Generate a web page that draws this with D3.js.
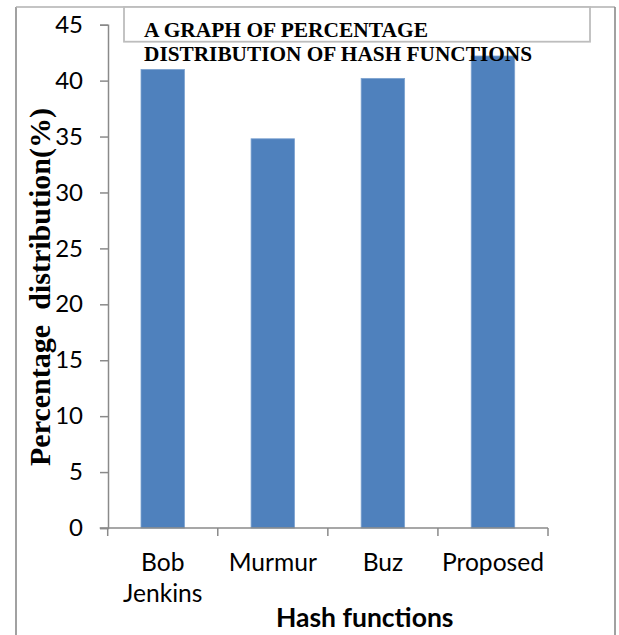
<!DOCTYPE html>
<html>
<head>
<meta charset="utf-8">
<script src="https://cdn.jsdelivr.net/npm/d3@7"></script>
<style>
  html, body { margin: 0; padding: 0; background: #fff; }
  svg { display: block; }
</style>
</head>
<body>
<svg id="chart" width="619" height="635"></svg>
<script>
const categories = ["Bob Jenkins", "Murmur", "Buz", "Proposed"];
const categoryLines = [["Bob", "Jenkins"], ["Murmur"], ["Buz"], ["Proposed"]];
const values = [41.0, 34.8, 40.2, 42.2];
const yTicks = [0, 5, 10, 15, 20, 25, 30, 35, 40, 45];
const titleLines = ["A GRAPH OF PERCENTAGE", "DISTRIBUTION OF HASH FUNCTIONS"];
const yLabel = "Percentage  distribution(%)";
const xLabel = "Hash functions";

const svg = d3.select("#chart");

// outer frame
svg.append("line").attr("x1", 16).attr("x2", 16).attr("y1", 7).attr("y2", 640)
  .attr("stroke", "#8a8a8a").attr("stroke-width", 1.6);
svg.append("line").attr("x1", 16).attr("x2", 615).attr("y1", 7).attr("y2", 7)
  .attr("stroke", "#b0b0b0").attr("stroke-width", 1.3);
svg.append("line").attr("x1", 615).attr("x2", 615).attr("y1", 7).attr("y2", 640)
  .attr("stroke", "#8a8a8a").attr("stroke-width", 1.6);

const x = d3.scaleBand().domain(categories).range([107.7, 548])
  .paddingInner(0.605).paddingOuter(0.3025);
const y = d3.scaleLinear().domain([0, 45]).range([528, 24.7]);

// bars
svg.append("g").selectAll("rect").data(values).join("rect")
  .attr("x", (d, i) => x(categories[i]))
  .attr("y", d => y(d))
  .attr("width", x.bandwidth())
  .attr("height", d => y(0) - y(d))
  .attr("fill", "#4F81BD")
  .attr("stroke", "#7EA3D0").attr("stroke-width", 0.8);

// y axis
const yAxis = svg.append("g").attr("transform", "translate(108,0)")
  .call(d3.axisLeft(y).tickValues(yTicks).tickSize(8).tickPadding(17));
yAxis.select(".domain").attr("stroke", "#8a8a8a").attr("stroke-width", 1.5);
yAxis.selectAll(".tick line").attr("stroke", "#8a8a8a").attr("stroke-width", 1.5);
yAxis.selectAll(".tick text")
  .attr("font-family", "Lato, 'Open Sans', sans-serif")
  .attr("font-size", 24).attr("fill", "#000");

// x axis
const step = x.step();
const boundaries = [0, 1, 2, 3, 4].map(i => x.range()[0] + i * step);
const xg = svg.append("g");
xg.append("line").attr("x1", x.range()[0] - 8).attr("x2", x.range()[1])
  .attr("y1", y(0)).attr("y2", y(0))
  .attr("stroke", "#8a8a8a").attr("stroke-width", 1.5);
xg.selectAll("line.tk").data(boundaries).join("line").attr("class", "tk")
  .attr("x1", d => d).attr("x2", d => d)
  .attr("y1", y(0)).attr("y2", y(0) + 8)
  .attr("stroke", "#8a8a8a").attr("stroke-width", 1.5);
xg.selectAll("text").data(categories).join("text")
  .attr("x", d => x(d) + x.bandwidth() / 2)
  .attr("y", 571)
  .attr("text-anchor", "middle")
  .attr("font-family", "Lato, 'Open Sans', sans-serif")
  .attr("font-size", 24.6).attr("fill", "#000")
  .each(function(d, i) {
    const t = d3.select(this);
    categoryLines[i].forEach((ln, j) => {
      t.append("tspan").attr("x", x(d) + x.bandwidth() / 2)
        .attr("dy", j === 0 ? 0 : 31).text(ln);
    });
  });

// x axis title
svg.append("text").attr("x", 364.7).attr("y", 627)
  .attr("text-anchor", "middle")
  .attr("font-family", "Lato, 'Open Sans', sans-serif")
  .attr("font-weight", "bold").attr("font-size", 26.5).attr("fill", "#000")
  .text(xLabel);

// y axis title
svg.append("text")
  .attr("transform", "translate(50,287) rotate(-90)")
  .attr("text-anchor", "middle")
  .attr("font-family", "'Liberation Serif', 'Times New Roman', serif")
  .attr("font-weight", "bold").attr("font-size", 29).attr("fill", "#000")
  .attr("textLength", 358).attr("lengthAdjust", "spacingAndGlyphs")
  .attr("xml:space", "preserve")
  .style("white-space", "pre")
  .text(yLabel);

// title box
svg.append("rect").attr("x", 124).attr("y", 7).attr("width", 466).attr("height", 34.7)
  .attr("fill", "#fff").attr("stroke", "#bdbdbd").attr("stroke-width", 1.8);
const titleWidths = [284, 388];
svg.append("g").selectAll("text").data(titleLines).join("text")
  .attr("x", 144).attr("y", (d, i) => 37 + i * 24)
  .attr("font-family", "'Liberation Serif', 'Times New Roman', serif")
  .attr("font-weight", "bold").attr("font-size", 21).attr("fill", "#000")
  .attr("textLength", (d, i) => titleWidths[i]).attr("lengthAdjust", "spacingAndGlyphs")
  .text(d => d);
</script>
</body>
</html>
